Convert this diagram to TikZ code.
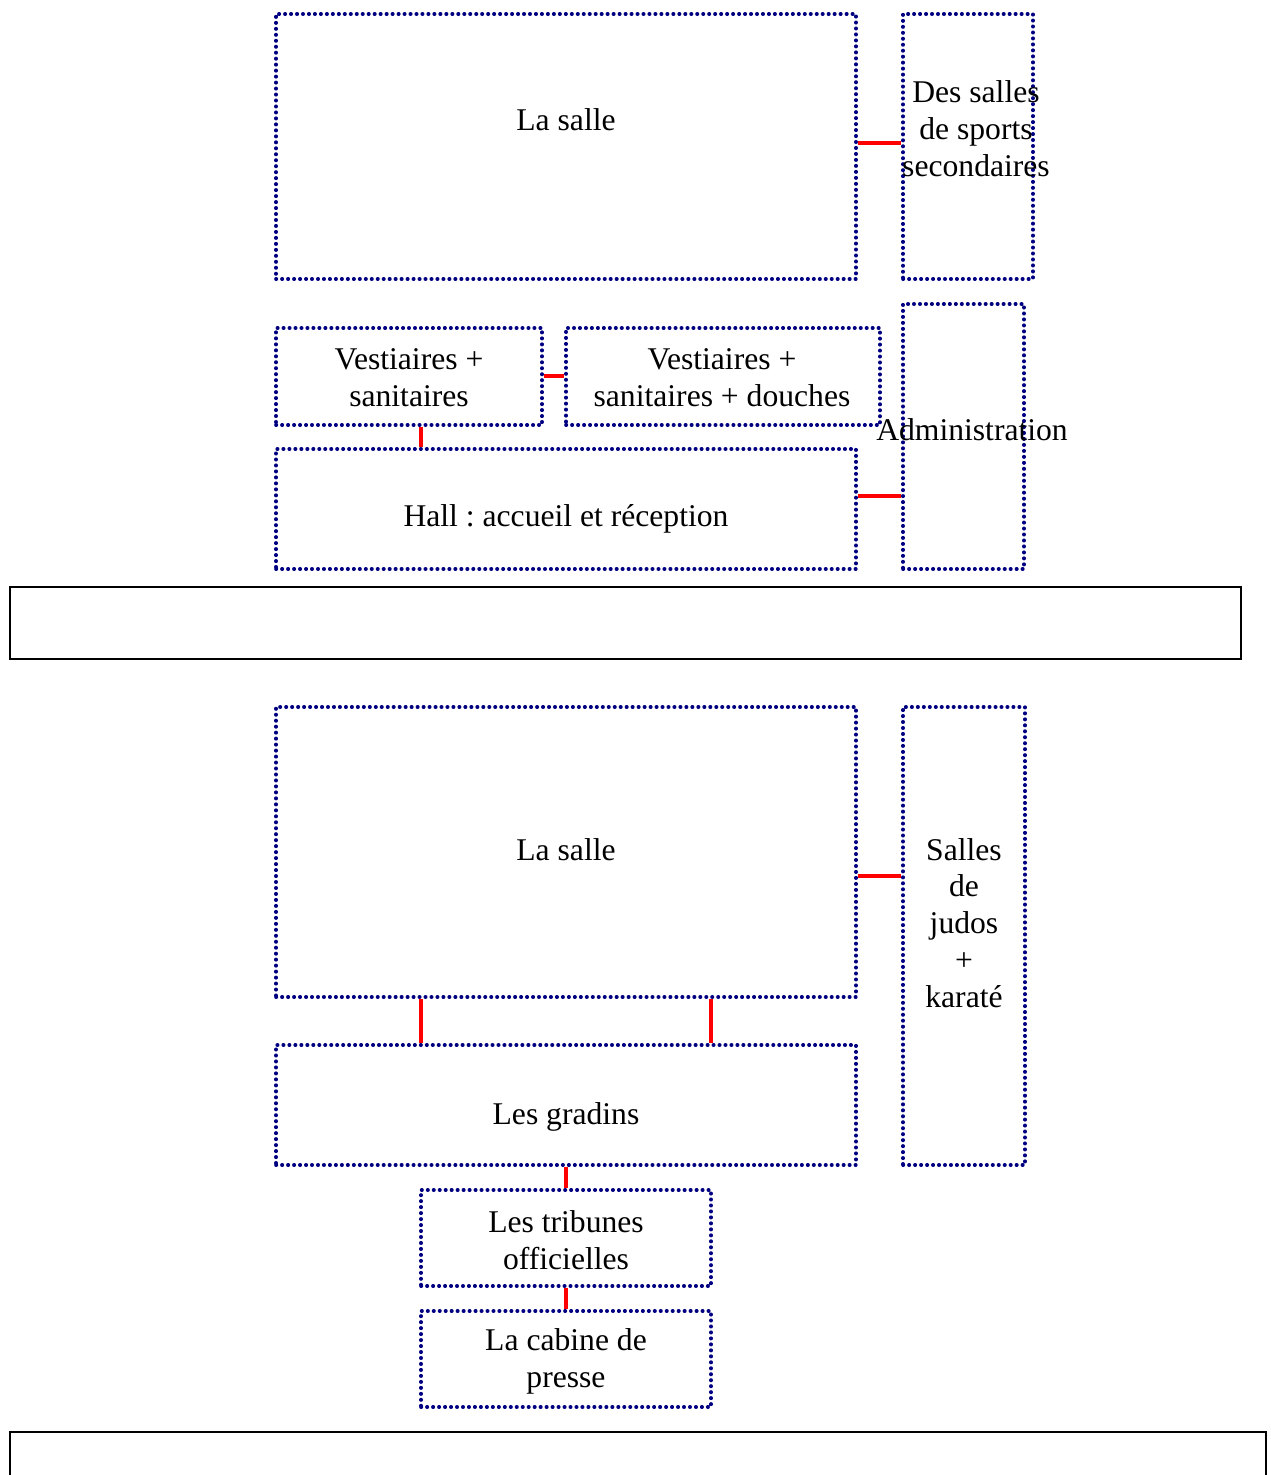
\documentclass[tikz,border=0pt]{standalone}
\usepackage{fontspec}
\setmainfont{Liberation Serif}
\frenchspacing
\usetikzlibrary{fit}
\definecolor{roomblue}{RGB}{0,0,128}
\begin{document}
\begin{tikzpicture}[x=0.02cm,y=-0.02cm,
  room/.style={draw=roomblue, line width=2.1pt, line cap=round,
    dash pattern=on 0.2pt off 3.2pt, inner sep=0pt},
  frame/.style={draw=black, line width=1.2pt, inner sep=0pt},
  link/.style={draw=red, line width=2pt},
  label/.style={font=\fontsize{18pt}{21pt}\selectfont, align=center, inner sep=0pt}]
\clip (0,0) rectangle (1271,1475);

% upper plan
\node[room, fit={(276,14) (856,279)}] (salleA) {};
\node[room, fit={(903,14) (1033,279)}] (sec) {};
\node[room, fit={(276,328) (542,425)}] (vestA) {};
\node[room, fit={(566,328) (880,425)}] (vestB) {};
\node[room, fit={(903,304) (1024,569)}] (admin) {};
\node[room, fit={(276,449) (856,569)}] (hall) {};

\node[label] (tSalleA) at (566,120) {La salle};
\node[label] (tSec) at (976,129) {Des salles\\de sports\\secondaires};
\node[label] (tVestA) at (409,378) {Vestiaires +\\sanitaires};
\node[label] (tVestB) at (722,378) {Vestiaires +\\sanitaires + douches};
\node[label] (tAdmin) at (972,430) {Administration};
\node[label] (tHall) at (566,519) {Hall : accueil et réception};

\draw[link] (salleA.east |- 0,143) -- (sec.west |- 0,143);
\draw[link] (vestA.east |- 0,376) -- (vestB.west |- 0,376);
\draw[link] (vestA.south -| 421,0) -- (hall.north -| 421,0);
\draw[link] (hall.east |- 0,496) -- (admin.west |- 0,496);

% separating frame
\node[frame, fit={(10,587) (1241,659)}] (bandA) {};

% lower plan
\node[room, fit={(276,707) (856,997)}] (salleB) {};
\node[room, fit={(903,707) (1025,1165)}] (judo) {};
\node[room, fit={(276,1045) (856,1165)}] (gradins) {};
\node[room, fit={(421,1190) (711,1286)}] (trib) {};
\node[room, fit={(421,1311) (711,1407)}] (cabine) {};

\node[label] (tSalleB) at (566,850) {La salle};
\node[label] (tJudo) at (964,923) {Salles\\de\\judos\\+\\karaté};
\node[label] (tGradins) at (566,1117) {Les gradins};
\node[label] (tTrib) at (566,1240) {Les tribunes\\officielles};
\node[label] (tCabine) at (566,1361) {La cabine de\\presse};

\draw[link] (salleB.east |- 0,876) -- (judo.west |- 0,876);
\draw[link] (salleB.south -| 421,0) -- (gradins.north -| 421,0);
\draw[link] (salleB.south -| 711,0) -- (gradins.north -| 711,0);
\draw[link] (gradins.south) -- (trib.north);
\draw[link] (trib.south) -- (cabine.north);

\node[frame, fit={(10,1432) (1266,1530)}] (bandB) {};
\end{tikzpicture}
\end{document}
